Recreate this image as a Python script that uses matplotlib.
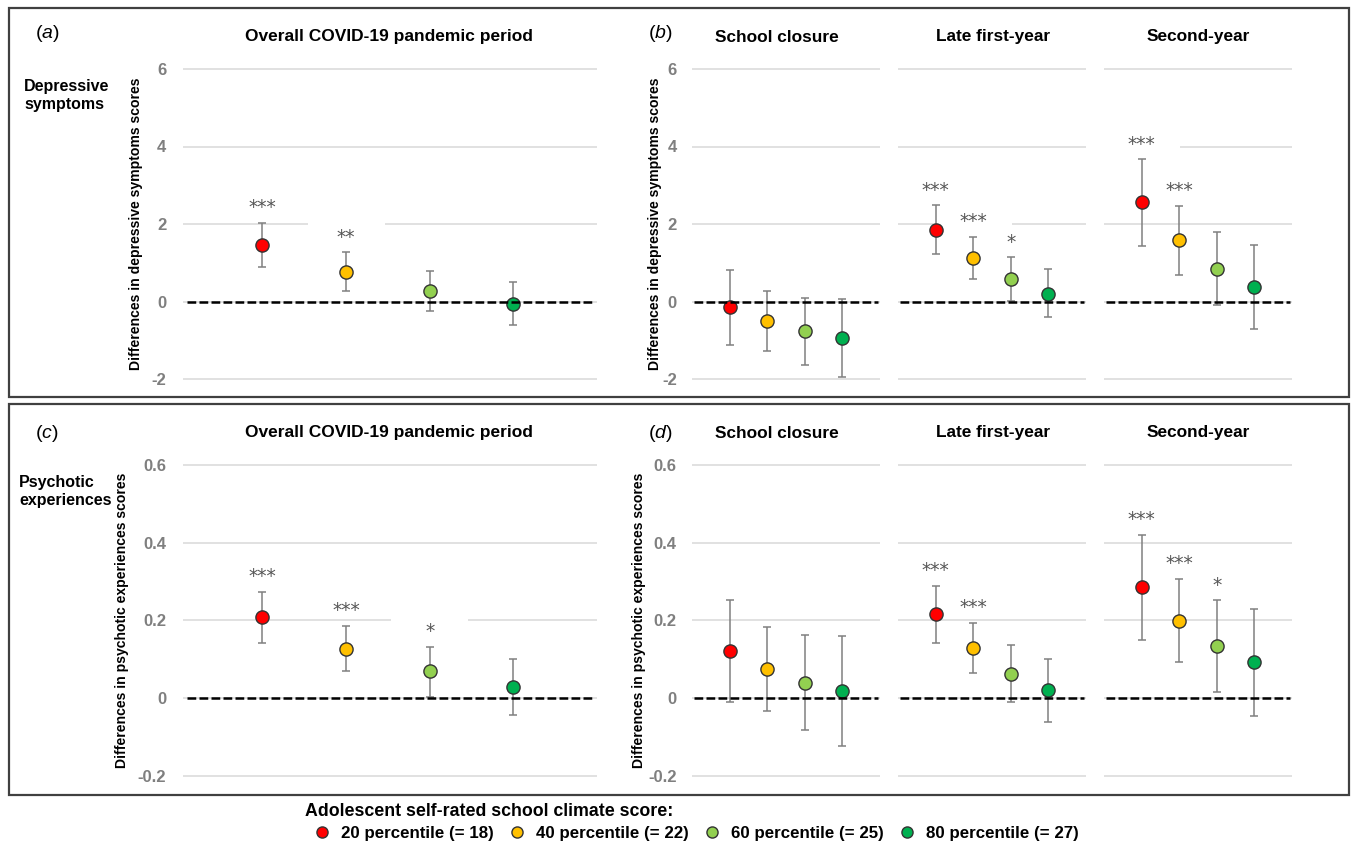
import matplotlib
matplotlib.use('Agg')
import matplotlib.pyplot as plt
from matplotlib.lines import Line2D
from matplotlib.patches import Rectangle
import numpy as np

plt.rcParams['font.family'] = ['Liberation Sans', 'DejaVu Sans']
plt.rcParams['mathtext.fontset'] = 'custom'
plt.rcParams['mathtext.it'] = 'Liberation Sans:italic'
plt.rcParams['mathtext.rm'] = 'Liberation Sans'

# ---------------- data ----------------
groups = ['20 percentile (= 18)', '40 percentile (= 22)',
          '60 percentile (= 25)', '80 percentile (= 27)']
colors = ['#FF0000', '#FFC000', '#92D050', '#00B050']
periods = ['School closure', 'Late first-year', 'Second-year']
overall_title = 'Overall COVID-19 pandemic period'

# Depressive symptoms, overall period
dep_overall = [1.45, 0.76, 0.28, -0.06]
dep_overall_lo = [0.90, 0.28, -0.24, -0.61]
dep_overall_hi = [2.03, 1.27, 0.79, 0.50]
dep_overall_sig = ['***', '**', '', '']

# Depressive symptoms, by period (school closure, late first-year, second-year)
dep_period = [[-0.15, -0.51, -0.77, -0.95],
              [1.85, 1.12, 0.57, 0.20],
              [2.56, 1.58, 0.85, 0.37]]
dep_period_lo = [[-1.11, -1.28, -1.63, -1.94],
                 [1.22, 0.58, 0.02, -0.41],
                 [1.44, 0.69, -0.09, -0.71]]
dep_period_hi = [[0.81, 0.27, 0.09, 0.06],
                 [2.48, 1.66, 1.14, 0.83],
                 [3.67, 2.47, 1.79, 1.45]]
dep_period_sig = [['', '', '', ''],
                  ['***', '***', '*', ''],
                  ['***', '***', '', '']]

# Psychotic experiences, overall period
psy_overall = [0.208, 0.127, 0.070, 0.028]
psy_overall_lo = [0.143, 0.069, 0.003, -0.044]
psy_overall_hi = [0.273, 0.187, 0.133, 0.101]
psy_overall_sig = ['***', '***', '*', '']

# Psychotic experiences, by period
psy_period = [[0.122, 0.075, 0.040, 0.018],
              [0.216, 0.129, 0.063, 0.020],
              [0.286, 0.199, 0.135, 0.092]]
psy_period_lo = [[-0.009, -0.033, -0.081, -0.124],
                 [0.142, 0.064, -0.009, -0.062],
                 [0.151, 0.093, 0.017, -0.045]]
psy_period_hi = [[0.253, 0.183, 0.163, 0.160],
                 [0.290, 0.194, 0.137, 0.102],
                 [0.420, 0.307, 0.252, 0.229]]
psy_period_sig = [['', '', '', ''],
                  ['***', '***', '', ''],
                  ['***', '***', '*', '']]

dep_ticks = [-2, 0, 2, 4, 6]
dep_ticklabels = ['-2', '0', '2', '4', '6']
psy_ticks = [-0.2, 0, 0.2, 0.4, 0.6]
psy_ticklabels = ['-0.2', '0', '0.2', '0.4', '0.6']

# ---------------- figure ----------------
W, H = 1355, 843
fig = plt.figure(figsize=(W / 100, H / 100), dpi=100)


def fx(px):
    return px / W


def fy(py):
    return 1 - py / H


def add_axes(x0, x1, ytop, ybot):
    return fig.add_axes([fx(x0), fy(ybot), (x1 - x0) / W, (ybot - ytop) / H])


GRID = '#d9d9d9'
TICKC = '#7f7f7f'


def draw(ax, vals, lo, hi, sig, ylim, xlim, ticks, ticklabels, show_ticks, pad):
    x = np.arange(1, len(vals) + 1)
    vals = np.asarray(vals)
    lo = np.asarray(lo)
    hi = np.asarray(hi)
    ax.set_xlim(*xlim)
    ax.set_ylim(*ylim)
    ax.set_yticks(ticks)
    if show_ticks:
        ax.set_yticklabels(ticklabels, color=TICKC, fontweight='bold', fontsize=12)
    else:
        ax.set_yticklabels([])
    ax.tick_params(axis='y', length=0, pad=pad)
    ax.set_xticks([])
    for s in ax.spines.values():
        s.set_visible(False)
    ax.yaxis.grid(True, color=GRID, lw=1.1, zorder=0)
    ax.set_axisbelow(True)
    ax.patch.set_alpha(0)
    ax.axhline(0, xmin=0.01, xmax=0.99, color='black', lw=1.8,
               ls=(0, (3.5, 1.3)), zorder=5)
    for i in range(len(vals)):
        ax.errorbar(x[i], vals[i], yerr=[[vals[i] - lo[i]], [hi[i] - vals[i]]],
                    fmt='none', ecolor='#808080', elinewidth=1.1, capsize=2.6,
                    capthick=1.1, zorder=3)
        ax.plot(x[i], vals[i], 'o', ms=9.5, mfc=colors[i], mec='#333333',
                mew=1.0, zorder=4)
        if sig[i]:
            ax.annotate(' ' * 13, (x[i], hi[i]), xytext=(0, 14),
                        textcoords='offset points', ha='center', va='center',
                        fontsize=13, family='DejaVu Sans',
                        bbox=dict(boxstyle='square,pad=0.06', fc='white',
                                  ec='none'), zorder=1.5)
            ax.annotate(sig[i], (x[i], hi[i]), xytext=(0, 7),
                        textcoords='offset points', ha='center', va='baseline',
                        fontsize=13.5, family='DejaVu Sans', color='#555555',
                        zorder=2)


# vertical placement (pixels)
TOP_Y = (61.25, 386.75)
BOT_Y = (457.2, 783.8)
dep_ylim = (-2.2, 6.2)
psy_ylim = (-0.22, 0.62)

wide_x = (183, 597)
narrow_x = [(692, 880), (898, 1086), (1104, 1292)]

# (a)
ax = add_axes(*wide_x, *TOP_Y)
draw(ax, dep_overall, dep_overall_lo, dep_overall_hi, dep_overall_sig,
     dep_ylim, (0.05, 5.0), dep_ticks, dep_ticklabels, True, 12)
# (b)
for j, (x0, x1) in enumerate(narrow_x):
    ax = add_axes(x0, x1, *TOP_Y)
    draw(ax, dep_period[j], dep_period_lo[j], dep_period_hi[j], dep_period_sig[j],
         dep_ylim, (0, 5), dep_ticks, dep_ticklabels, j == 0, 11)
# (c)
ax = add_axes(*wide_x, *BOT_Y)
draw(ax, psy_overall, psy_overall_lo, psy_overall_hi, psy_overall_sig,
     psy_ylim, (0.05, 5.0), psy_ticks, psy_ticklabels, True, 12)
# (d)
for j, (x0, x1) in enumerate(narrow_x):
    ax = add_axes(x0, x1, *BOT_Y)
    draw(ax, psy_period[j], psy_period_lo[j], psy_period_hi[j], psy_period_sig[j],
         psy_ylim, (0, 5), psy_ticks, psy_ticklabels, j == 0, 11)

# ---------------- texts ----------------
bold = dict(fontweight='bold', color='black')
# titles
for ytitle in (37, 433):
    fig.text(fx(389), fy(ytitle), overall_title, ha='center', va='center',
             fontsize=12.5, **bold)
    for xc, t in zip((777, 993, 1198), periods):
        fig.text(fx(xc), fy(ytitle), t, ha='center', va='center',
                 fontsize=12.4, **bold)
# panel labels
for xc, yc, lab in ((47, 34, 'a'), (660, 34, 'b'), (47, 434, 'c'), (660, 434, 'd')):
    fig.text(fx(xc), fy(yc), '($' + lab + '$)', ha='center', va='center',
             fontsize=14, color='black')
# row labels
fig.text(fx(24), fy(95), 'Depressive\nsymptoms', ha='left', va='center',
         fontsize=11.5, linespacing=1.25, **bold)
fig.text(fx(19), fy(491), 'Psychotic\nexperiences', ha='left', va='center',
         fontsize=11.5, linespacing=1.25, **bold)
# y labels
dep_lab = 'Differences in depressive symptoms scores'
psy_lab = 'Differences in psychotic experiences scores'
fig.text(fx(136), fy(224), dep_lab, rotation=90, ha='center', va='center',
         fontsize=10.1, **bold)
fig.text(fx(655), fy(224), dep_lab, rotation=90, ha='center', va='center',
         fontsize=10.1, **bold)
fig.text(fx(122), fy(620), psy_lab, rotation=90, ha='center', va='center',
         fontsize=10.1, **bold)
fig.text(fx(639), fy(620), psy_lab, rotation=90, ha='center', va='center',
         fontsize=10.1, **bold)

# panel frames
for (y0, y1) in ((8, 397), (404, 795)):
    fig.add_artist(Rectangle((fx(9), fy(y1)), (1349 - 9) / W, (y1 - y0) / H,
                             transform=fig.transFigure, fill=False,
                             ec='#404040', lw=1.6))

# legend
handles = [Line2D([], [], ls='none', marker='o', ms=8, mfc=c, mec='#333333',
                  mew=1.0) for c in colors]
leg = fig.legend(handles, groups, loc='upper left',
                 bbox_to_anchor=(fx(305), fy(803)), ncol=4, frameon=False,
                 title='Adolescent self-rated school climate score:',
                 alignment='left', prop=dict(weight='bold', size=12.2),
                 title_fontproperties=dict(weight='bold', size=12.8),
                 handlelength=2.0, handletextpad=0.1, columnspacing=0.4,
                 borderpad=0, borderaxespad=0, labelspacing=0.35)

fig.savefig('out.png', dpi=100)
